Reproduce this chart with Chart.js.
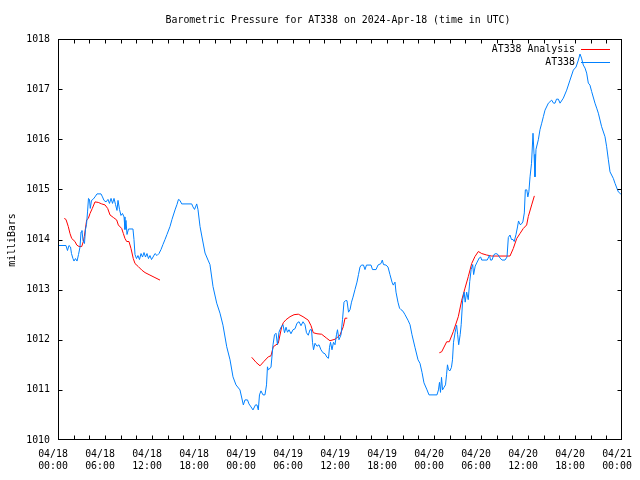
<!DOCTYPE html>
<html>
<head>
<meta charset="utf-8">
<script src="https://cdn.jsdelivr.net/npm/chart.js@4/dist/chart.umd.min.js"></script>
<style>
html,body{margin:0;padding:0;background:#fff;}
canvas{display:block;}
</style>
</head>
<body>
<canvas id="c" width="640" height="480"></canvas>
<script>
const chartTitle = "Barometric Pressure for AT338 on 2024-Apr-18 (time in UTC)";
const yAxisTitle = "milliBars";
const seriesNames = ["AT338 Analysis", "AT338"];
const xTickLabels = [
  ["04/18","00:00"],["04/18","06:00"],["04/18","12:00"],["04/18","18:00"],
  ["04/19","00:00"],["04/19","06:00"],["04/19","12:00"],["04/19","18:00"],
  ["04/20","00:00"],["04/20","06:00"],["04/20","12:00"],["04/20","18:00"],
  ["04/21","00:00"]
];
// hours since 2024-04-18 00:00 UTC
const obsHours = [0,1.02,1.21,1.40,1.60,1.72,1.91,2.04,2.23,2.43,2.62,2.81,2.94,3.06,3.19,3.38,3.51,3.64,3.77,3.89,4.02,4.12,4.28,4.47,4.72,4.98,5.49,5.68,5.87,6.13,6.38,6.57,6.77,6.96,7.15,7.34,7.53,7.66,7.85,8.04,8.23,8.43,8.55,8.68,8.81,9.00,9.57,9.70,9.83,10.02,10.21,10.40,10.60,10.79,10.98,11.17,11.36,11.55,11.74,11.94,12.13,12.38,12.64,12.89,13.15,13.40,13.66,13.91,14.30,14.55,14.94,15.19,15.38,15.57,15.79,17.07,17.23,17.43,17.71,17.87,18.13,18.38,18.77,19.15,19.40,19.79,20.26,20.68,21.06,21.54,21.96,22.34,22.72,23.23,23.66,23.87,24.19,24.38,24.64,24.89,25.21,25.40,25.57,25.72,25.91,26.17,26.42,26.62,26.74,26.85,27.19,27.45,27.64,27.83,28.02,28.21,28.47,28.72,28.92,29.11,29.30,29.49,29.74,30.00,30.26,30.51,30.77,31.02,31.28,31.53,31.72,31.95,32.17,32.36,32.49,32.62,32.81,33.06,33.32,33.57,33.83,34.09,34.34,34.53,34.66,34.79,34.98,35.17,35.36,35.55,35.68,35.87,36.00,36.13,36.32,36.51,36.70,36.89,37.09,37.28,37.47,37.66,37.91,38.17,38.36,38.55,38.74,39.00,39.19,39.38,39.96,40.15,40.60,40.85,41.23,41.40,41.55,41.87,42.13,42.38,42.64,42.80,43.02,43.15,43.40,43.60,43.79,44.04,44.30,44.68,44.94,45.19,45.57,45.96,46.21,46.47,46.72,47.11,47.36,48.38,48.57,48.70,48.83,48.96,49.09,49.28,49.47,49.60,49.72,49.85,50.04,50.23,50.36,50.49,50.70,50.89,51.02,51.15,51.34,51.47,51.66,51.85,51.98,52.17,52.37,52.56,52.74,52.94,53.06,53.26,53.51,53.77,53.96,54.09,54.79,54.98,55.09,55.21,55.40,55.66,55.91,56.17,56.43,56.68,57.06,57.32,57.49,57.70,57.89,58.09,58.24,58.47,58.66,58.79,58.98,59.11,59.34,59.53,59.66,59.85,59.98,60.11,60.26,60.45,60.64,60.77,60.89,61.02,61.32,61.53,61.75,61.96,62.17,62.60,63.02,63.26,63.45,63.64,63.87,64.09,64.51,64.94,65.36,65.79,66.13,66.43,66.64,66.83,67.06,67.28,67.49,67.70,67.91,68.13,68.55,68.77,68.98,69.40,69.83,70.04,70.26,70.47,70.89,71.11,71.53,71.83,72.00];
const obsPressure = [1013.88,1013.88,1013.78,1013.88,1013.85,1013.72,1013.62,1013.57,1013.62,1013.57,1013.70,1013.85,1014.15,1014.18,1013.98,1013.92,1014.20,1014.30,1014.55,1014.82,1014.80,1014.62,1014.78,1014.80,1014.85,1014.91,1014.91,1014.85,1014.78,1014.75,1014.80,1014.72,1014.82,1014.72,1014.82,1014.70,1014.58,1014.78,1014.60,1014.48,1014.52,1014.45,1014.20,1014.38,1014.10,1014.21,1014.21,1014.00,1013.70,1013.62,1013.68,1013.60,1013.72,1013.65,1013.74,1013.65,1013.72,1013.62,1013.68,1013.60,1013.65,1013.72,1013.68,1013.72,1013.80,1013.90,1014.00,1014.10,1014.26,1014.40,1014.59,1014.70,1014.80,1014.78,1014.71,1014.71,1014.65,1014.60,1014.71,1014.60,1014.26,1014.05,1013.73,1013.59,1013.50,1013.06,1012.73,1012.53,1012.29,1011.86,1011.60,1011.26,1011.10,1011.00,1010.70,1010.80,1010.80,1010.72,1010.66,1010.60,1010.70,1010.70,1010.60,1010.90,1010.98,1010.90,1010.90,1011.10,1011.46,1011.40,1011.45,1011.90,1012.10,1012.13,1011.90,1012.15,1012.25,1012.30,1012.14,1012.25,1012.15,1012.20,1012.12,1012.20,1012.22,1012.33,1012.36,1012.28,1012.36,1012.30,1012.14,1012.09,1012.20,1012.20,1011.95,1011.80,1011.93,1011.87,1011.90,1011.80,1011.74,1011.72,1011.65,1011.63,1011.85,1011.95,1011.80,1011.95,1011.90,1012.10,1012.20,1012.00,1012.05,1012.10,1012.40,1012.75,1012.78,1012.78,1012.55,1012.60,1012.75,1012.85,1013.00,1013.15,1013.30,1013.45,1013.49,1013.49,1013.40,1013.49,1013.49,1013.40,1013.40,1013.49,1013.52,1013.59,1013.50,1013.49,1013.45,1013.30,1013.15,1013.09,1013.15,1012.95,1012.75,1012.63,1012.60,1012.57,1012.50,1012.39,1012.30,1012.10,1011.85,1011.60,1011.53,1011.35,1011.14,1011.00,1010.90,1010.90,1011.00,1011.15,1010.95,1011.25,1011.00,1011.05,1011.10,1011.30,1011.50,1011.40,1011.38,1011.45,1011.60,1011.95,1012.15,1012.29,1012.10,1011.90,1012.10,1012.30,1012.79,1012.95,1012.75,1012.95,1012.80,1013.16,1013.40,1013.50,1013.30,1013.47,1013.55,1013.63,1013.65,1013.59,1013.59,1013.65,1013.69,1013.59,1013.59,1013.70,1013.72,1013.70,1013.63,1013.59,1013.59,1013.65,1014.04,1014.09,1014.00,1014.00,1013.96,1014.10,1014.25,1014.37,1014.30,1014.30,1014.35,1014.53,1014.99,1014.99,1014.85,1014.95,1015.25,1015.52,1016.12,1015.70,1015.25,1015.80,1015.99,1016.19,1016.32,1016.45,1016.58,1016.72,1016.78,1016.72,1016.72,1016.80,1016.80,1016.72,1016.82,1016.98,1017.18,1017.38,1017.44,1017.58,1017.70,1017.62,1017.48,1017.42,1017.32,1017.12,1017.08,1016.95,1016.72,1016.62,1016.52,1016.25,1016.05,1015.85,1015.59,1015.35,1015.22,1015.12,1014.95,1014.91,1014.90];

const anaHours1 = [0.80,1.02,1.31,1.53,1.75,2.17,2.39,2.68,3.03,3.23,3.36,3.66,3.87,4.09,4.38,4.72,5.14,5.58,6.00,6.34,6.64,7.06,7.49,7.70,8.13,8.34,8.55,8.77,9.06,9.32,9.61,9.83,10.25,10.69,11.11,11.74,12.38,13.02];
const anaPressure1 = [1014.42,1014.40,1014.26,1014.12,1014.02,1013.96,1013.89,1013.86,1013.86,1013.96,1014.06,1014.39,1014.42,1014.52,1014.62,1014.75,1014.74,1014.71,1014.69,1014.62,1014.49,1014.44,1014.39,1014.29,1014.22,1014.12,1014.02,1013.96,1013.96,1013.82,1013.62,1013.52,1013.46,1013.39,1013.34,1013.29,1013.24,1013.19];
const anaHours2 = [24.73,25.28,25.79,26.30,26.85,27.19,27.48,28.12,28.56,28.76,29.11,29.62,30.13,30.68,31.28,31.95,32.30,32.59,33.06,33.66,34.30,34.72,35.36,35.99,36.42,36.64,36.93];
const anaPressure2 = [1011.65,1011.55,1011.48,1011.57,1011.66,1011.68,1011.86,1011.93,1012.26,1012.34,1012.40,1012.46,1012.50,1012.51,1012.46,1012.39,1012.28,1012.14,1012.12,1012.11,1012.03,1011.98,1012.01,1012.09,1012.26,1012.43,1012.43];
const anaHours3 = [48.68,48.98,49.62,49.95,50.46,51.10,51.54,51.96,52.38,52.81,53.23,53.66,54.09,54.73,55.37,56.43,57.70,58.12,58.56,58.98,59.40,59.83,60.04,60.47,60.81];
const anaPressure3 = [1011.74,1011.76,1011.96,1011.96,1012.16,1012.46,1012.79,1013.03,1013.26,1013.52,1013.66,1013.76,1013.72,1013.69,1013.67,1013.67,1013.67,1013.82,1014.02,1014.12,1014.22,1014.29,1014.46,1014.69,1014.87];

const FONT = 'DejaVu Sans Mono';
const FS = 9.9;

function pts(xs, ys){ return xs.map((x,i)=>({x:x, y:ys[i]})); }
const analysisData = []
  .concat(pts(anaHours1, anaPressure1), [{x:18, y:null}])
  .concat(pts(anaHours2, anaPressure2), [{x:42, y:null}])
  .concat(pts(anaHours3, anaPressure3));
const obsData = pts(obsHours, obsPressure);

const framePlugin = {
  id: 'frame',
  afterDatasetsDraw(chart){
    const ctx = chart.ctx, a = chart.chartArea;
    const xs = chart.scales.x, ys = chart.scales.y;
    ctx.save();
    ctx.strokeStyle = '#000';
    ctx.lineWidth = 1;
    const L = Math.round(a.left)+0.5, R = Math.round(a.right)-0.5;
    const T = Math.round(a.top)+0.5, B = Math.round(a.bottom)-0.5;
    ctx.beginPath();
    for (let h = 2; h < 72; h += 2){
      const px = Math.round(xs.getPixelForValue(h))+0.5;
      ctx.moveTo(px, B); ctx.lineTo(px, B-4);
      ctx.moveTo(px, T); ctx.lineTo(px, T+4);
    }
    for (let v = 1011; v < 1018; v++){
      const py = Math.round(ys.getPixelForValue(v))+0.5;
      ctx.moveTo(L, py); ctx.lineTo(L+4, py);
      ctx.moveTo(R, py); ctx.lineTo(R-4, py);
    }
    ctx.stroke();
    ctx.strokeRect(L, T, R-L, B-T);
    // title
    ctx.fillStyle = '#000';
    ctx.font = FS + 'px "' + FONT + '"';
    ctx.textAlign = 'center';
    ctx.textBaseline = 'middle';
    ctx.fillText(chartTitle, 338, 20);
    // y axis title
    ctx.save();
    ctx.translate(12, 240);
    ctx.rotate(-Math.PI/2);
    ctx.fillText(yAxisTitle, 0, 0);
    ctx.restore();
    // legend
    ctx.textAlign = 'right';
    const rows = [49, 62];
    [0,1].forEach(i=>{
      const ds = chart.data.datasets[i];
      ctx.fillStyle = '#000';
      ctx.fillText(ds.label, 575, rows[i]);
      ctx.strokeStyle = ds.borderColor;
      ctx.beginPath();
      ctx.moveTo(581, rows[i]+0.5); ctx.lineTo(610, rows[i]+0.5);
      ctx.stroke();
    });
    ctx.restore();
  }
};

new Chart(document.getElementById('c'), {
  type: 'line',
  data: {
    datasets: [
      { label: seriesNames[0], data: analysisData, borderColor: '#ff0000', borderWidth: 1,
        pointRadius: 0, tension: 0, spanGaps: false, order: 1 },
      { label: seriesNames[1], data: obsData, borderColor: '#0080ff', borderWidth: 1,
        pointRadius: 0, tension: 0, order: 0 }
    ]
  },
  options: {
    responsive: false,
    animation: false,
    devicePixelRatio: 1,
    layout: { padding: { top: 39, right: 18, left: 0, bottom: 0 } },
    plugins: { legend: { display: false }, title: { display: false }, tooltip: { enabled: false } },
    scales: {
      x: {
        type: 'linear', min: 0, max: 72,
        grid: { display: false, drawTicks: false },
        border: { display: false },
        afterFit(s){ s.height = 40; s.paddingLeft = 0; s.paddingRight = 0; },
        afterBuildTicks(s){ s.ticks = xTickLabels.map((l,i)=>({value: i*6})); },
        ticks: {
          autoSkip: false, maxRotation: 0, padding: 8, labelOffset: -5,
          color: '#000', font: { family: FONT, size: FS, lineHeight: 1.26 },
          callback: (v) => xTickLabels[Math.round(v/6)]
        }
      },
      y: {
        min: 1010, max: 1018,
        grid: { display: false, drawTicks: false },
        border: { display: false },
        afterFit(s){ s.width = 58; s.paddingTop = 0; s.paddingBottom = 0; },
        ticks: {
          stepSize: 1, padding: 8, color: '#000',
          font: { family: FONT, size: FS },
          callback: (v) => String(v)
        }
      }
    }
  },
  plugins: [framePlugin]
});
</script>
</body>
</html>
